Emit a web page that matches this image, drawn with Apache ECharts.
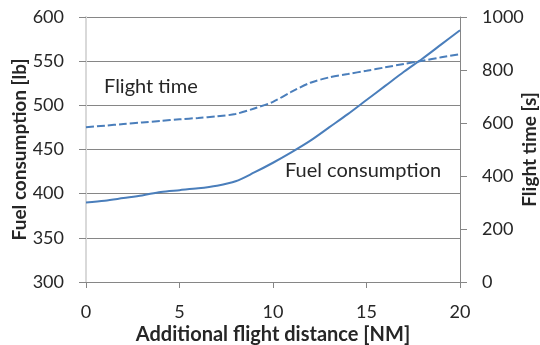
<!DOCTYPE html>
<html><head><meta charset="utf-8">
<script src="https://cdn.jsdelivr.net/npm/echarts@6/dist/echarts.min.js"></script>
<style>html,body{margin:0;padding:0;background:#fff}#c{width:540px;height:345px}</style>
</head><body><div id="c"></div>
<script>
const distance = [0,1,2,3,4,5,6,7,8,9,10,11,12,13,14,15,16,17,18,19,20];
const fuelConsumption = [390,392,395,398,402,404,406,409,414,424,435,447,460,475,490,506,522,538,553,569,585];
const flightTime = [584,590,596,602,608,614,619,625,634,655,680,718,752,772,785,797,810,823,835,848,860];
const leftTicks = {min:300, max:600, interval:50};
const rightTicks = {min:0, max:1000, interval:200};
const xTicks = {min:0, max:20, interval:5};

const FONT = 'Lato';
const txt = '#262626';
const blue = '#4a7ebb';
const plain = v => String(v);
const chart = echarts.init(document.getElementById('c'));
chart.setOption({
  animation:false,
  textStyle:{fontFamily:FONT},
  grid:{left:86,right:80,top:17,bottom:63,containLabel:false,outerBoundsMode:'none'},
  xAxis:{type:'value',min:xTicks.min,max:xTicks.max,interval:xTicks.interval,
    name:'Additional flight distance [NM]',nameLocation:'middle',nameGap:43,nameMoveOverlap:false,
    nameTextStyle:{fontFamily:FONT,fontSize:20,fontWeight:'bold',color:txt},
    axisLine:{onZero:false,lineStyle:{color:'#868686',width:1}},
    axisTick:{show:true,length:6,lineStyle:{color:'#868686'}},
    axisLabel:{fontFamily:FONT,fontSize:18,color:txt,margin:21,formatter:plain},
    splitLine:{show:false}},
  yAxis:[
    {type:'value',position:'left',min:leftTicks.min,max:leftTicks.max,interval:leftTicks.interval,
     name:'Fuel consumption [lb]',nameLocation:'middle',nameGap:66,nameRotate:90,nameMoveOverlap:false,
     nameTextStyle:{fontFamily:FONT,fontSize:19,fontWeight:'bold',color:txt,verticalAlign:'middle'},
     axisLine:{show:true,lineStyle:{color:'#d9d9d9',width:2}},
     axisTick:{show:true,length:7,lineStyle:{color:'#868686'}},
     axisLabel:{fontFamily:FONT,fontSize:18,color:txt,margin:22,formatter:plain},
     splitLine:{show:true,lineStyle:{color:'#868686',width:1}}},
    {type:'value',position:'right',min:rightTicks.min,max:rightTicks.max,interval:rightTicks.interval,
     name:'Flight time [s]',nameLocation:'middle',nameGap:70,nameRotate:90,nameMoveOverlap:false,
     nameTextStyle:{fontFamily:FONT,fontSize:19,fontWeight:'bold',color:txt,verticalAlign:'middle'},
     axisLine:{show:true,lineStyle:{color:'#868686',width:1}},
     axisTick:{show:true,length:7,lineStyle:{color:'#868686'}},
     axisLabel:{fontFamily:FONT,fontSize:18,color:txt,margin:22,formatter:plain},
     splitLine:{show:false}}
  ],
  series:[
    {name:'Fuel consumption',type:'line',yAxisIndex:0,smooth:0.3,symbol:'none',
     data:distance.map((d,i)=>[d,fuelConsumption[i]]),
     lineStyle:{color:blue,width:2}},
    {name:'Flight time',type:'line',yAxisIndex:1,smooth:0.3,symbol:'none',
     data:distance.map((d,i)=>[d,flightTime[i]]),
     lineStyle:{color:blue,width:2,type:[8,3]}}
  ],
  graphic:[
    {type:'text',left:104,top:77,style:{text:'Flight time',font:'20px '+FONT,fill:txt}},
    {type:'text',left:285,top:161,style:{text:'Fuel consumption',font:'20px '+FONT,fill:txt}}
  ]
});
</script></body></html>
